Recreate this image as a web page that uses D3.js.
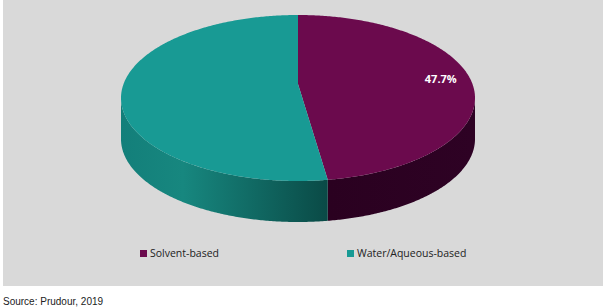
<!DOCTYPE html>
<html>
<head>
<meta charset="utf-8">
<script src="https://cdn.jsdelivr.net/npm/d3@7"></script>
<style>
  html, body { margin: 0; padding: 0; background: #fff; }
  svg { display: block; }
</style>
</head>
<body>
<div id="chart"></div>
<script>
/* data */
const categories = ['Solvent-based', 'Water/Aqueous-based'];
const shares = [47.7, 52.3];
const shownLabels = ['47.7%', ''];
const topColors = ['#6b0a4d', '#189a94'];
const sourceNote = 'Source: Prudour, 2019';

const W = 604, H = 308;
const svg = d3.select('#chart').append('svg').attr('width', W).attr('height', H);

svg.append('rect').attr('x', 3).attr('y', 0).attr('width', 600).attr('height', 286).attr('fill', '#d9d9d9');

/* gradients for the walls */
const defs = svg.append('defs');
const gTeal = defs.append('linearGradient').attr('id', 'wallTeal')
  .attr('gradientUnits', 'userSpaceOnUse').attr('x1', 121).attr('x2', 328).attr('y1', 0).attr('y2', 0);
gTeal.append('stop').attr('offset', '0%').attr('stop-color', '#137f7a');
gTeal.append('stop').attr('offset', '30%').attr('stop-color', '#17877f');
gTeal.append('stop').attr('offset', '100%').attr('stop-color', '#0a4a46');
const gPlum = defs.append('linearGradient').attr('id', 'wallPlum')
  .attr('gradientUnits', 'userSpaceOnUse').attr('x1', 328).attr('x2', 475).attr('y1', 0).attr('y2', 0);
gPlum.append('stop').attr('offset', '0%').attr('stop-color', '#2a0120');
gPlum.append('stop').attr('offset', '100%').attr('stop-color', '#2e0224');
const wallFills = ['url(#wallPlum)', 'url(#wallTeal)'];

/* ellipse geometry (apex sits a little above the ellipse centre, like the tilted 3D view) */
const cx = 298, cy = 98, rx = 177, ry = 83, depth = 41, apexY = 84;
const pt = (t, dy = 0) => [cx + rx * Math.sin(t), cy - ry * Math.cos(t) + dy];
const arcPts = (t0, t1, dy = 0) => {
  const n = Math.max(2, Math.ceil(Math.abs(t1 - t0) / 0.01));
  return d3.range(n + 1).map(i => pt(t0 + (t1 - t0) * i / n, dy));
};
// map a pie angle to the ellipse parameter where the ray from the apex meets the rim
const rimParam = a => {
  if (Math.abs(a) < 1e-9) return 0;
  if (Math.abs(a - 2 * Math.PI) < 1e-9) return 2 * Math.PI;
  const dx = rx * Math.sin(a), dy = -ry * Math.cos(a), oy = apexY - cy;
  const A = (dx / rx) ** 2 + (dy / ry) ** 2, B = 2 * dy * oy / ry ** 2, C = (oy / ry) ** 2 - 1;
  const t = (-B + Math.sqrt(B * B - 4 * A * C)) / (2 * A);
  const x = dx * t, y = oy + dy * t;
  let p = Math.atan2(x / rx, -y / ry);
  if (p < 0) p += 2 * Math.PI;
  return p;
};
const line = d3.line();

const pie = d3.pie().sort(null).startAngle(0).endAngle(2 * Math.PI);
const arcs = pie(shares).map(d => ({ ...d, t0: rimParam(d.startAngle), t1: rimParam(d.endAngle) }));

/* side walls (front half only) */
const wallG = svg.append('g');
arcs.forEach((d, i) => {
  const a0 = Math.max(d.t0, Math.PI / 2);
  const a1 = Math.min(d.t1, 3 * Math.PI / 2);
  if (a1 <= a0) return;
  const pts = arcPts(a0, a1).concat(arcPts(a1, a0, depth));
  wallG.append('path').attr('d', line(pts) + 'Z').attr('fill', wallFills[i]);
});

/* top faces */
const topG = svg.append('g');
arcs.forEach((d, i) => {
  const pts = [[cx, apexY]].concat(arcPts(d.t0, d.t1));
  topG.append('path').attr('d', line(pts) + 'Z').attr('fill', topColors[i]);
});

/* value labels */
arcs.forEach((d, i) => {
  if (!shownLabels[i]) return;
  const mid = (d.startAngle + d.endAngle) / 2;
  const lx = cx + rx * 0.82 * Math.sin(mid) - 2, ly = apexY - ry * 0.82 * Math.cos(mid);
  svg.append('text').attr('x', lx).attr('y', ly + 4)
    .attr('text-anchor', 'middle')
    .style('font-family', '"Open Sans", sans-serif').style('font-size', '11px').style('font-weight', '700')
    .style('fill', '#fff').text(shownLabels[i]);
});

/* legend */
const legX = [140, 347];
const leg = svg.append('g');
categories.forEach((c, i) => {
  leg.append('rect').attr('x', legX[i]).attr('y', 250).attr('width', 7).attr('height', 7).attr('fill', topColors[i]);
  leg.append('text').attr('x', legX[i] + 10).attr('y', 257)
    .style('font-family', '"Open Sans", sans-serif').style('font-size', '10.5px')
    .style('fill', '#222').text(c);
});

svg.append('text').attr('x', 3).attr('y', 305)
  .style('font-family', '"Liberation Sans", Arial, sans-serif').style('font-size', '10px')
  .style('fill', '#222').text(sourceNote);
</script>
</body>
</html>
